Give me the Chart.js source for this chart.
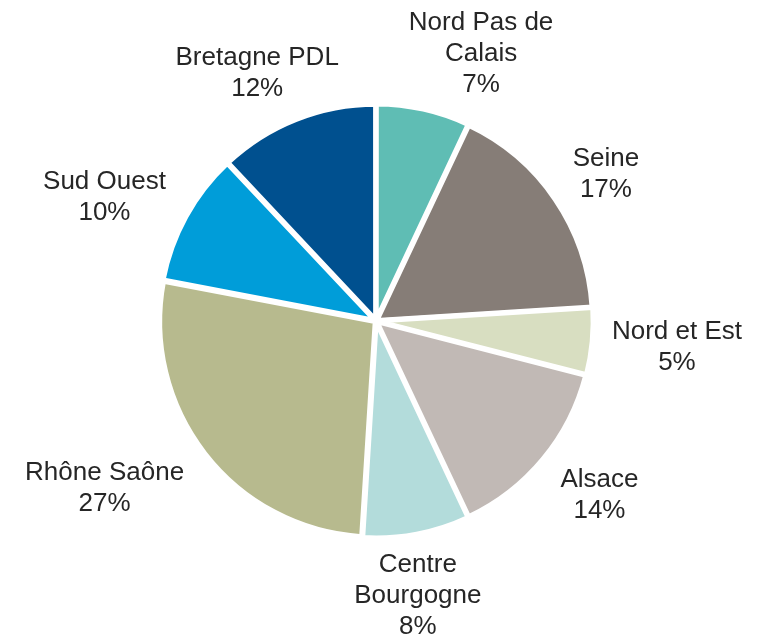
<!DOCTYPE html>
<html>
<head>
    <meta charset="utf-8">
    <title>Répartition par région</title>
    <script src="https://cdn.jsdelivr.net/npm/chart.js"></script>
    <style>
        html, body { margin: 0; padding: 0; background: #fff; }
        #wrap { width: 768px; height: 635px; }
    </style>
</head>
<body>
    <div id="wrap"><canvas id="pie"></canvas></div>

    <script>
        // Regions and their share (%)
        const regions = ['Nord Pas de Calais', 'Seine', 'Nord et Est', 'Alsace',
                         'Centre Bourgogne', 'Rhône Saône', 'Sud Ouest', 'Bretagne PDL'];
        const shares = [7, 17, 5, 14, 8, 27, 10, 12];
        // How each label is broken over lines
        const labelLines = [
            ['Nord Pas de', 'Calais'],
            ['Seine'],
            ['Nord et Est'],
            ['Alsace'],
            ['Centre', 'Bourgogne'],
            ['Rhône Saône'],
            ['Sud Ouest'],
            ['Bretagne PDL']
        ];
        const colors = ['#5fbdb4', '#867d77', '#d8dec1', '#c1b9b5',
                        '#b3dcdb', '#b7ba8e', '#009dd9', '#00508f'];

        // hand nudges so the labels sit where Excel put them
        const nudge = [[52, -1], [19, -9], [10, 5], [25, 17], [-3, 6], [-42, 16], [-25, -7], [-24, -9]];

        const outsideLabels = {
            id: 'outsideLabels',
            afterDraw(chart) {
                const ctx = chart.ctx;
                const arcs = chart.getDatasetMeta(0).data;
                const fontSize = 26, lineH = 31, gap = 12;
                ctx.save();
                ctx.font = fontSize + 'px "Liberation Sans", Arial, sans-serif';
                ctx.fillStyle = '#262626';
                ctx.textAlign = 'center';
                ctx.textBaseline = 'middle';
                arcs.forEach((arc, i) => {
                    const p = arc.getProps(['x', 'y', 'startAngle', 'endAngle', 'outerRadius']);
                    const mid = (p.startAngle + p.endAngle) / 2;
                    const lines = labelLines[i].concat([shares[i] + '%']);
                    const w = Math.max(...lines.map(l => ctx.measureText(l).width));
                    const h = lines.length * lineH;
                    const r = p.outerRadius + gap;
                    const cx = p.x + Math.cos(mid) * (r + w / 2 * Math.abs(Math.cos(mid))) + nudge[i][0];
                    const cy = p.y + Math.sin(mid) * (r + h / 2 * Math.abs(Math.sin(mid))) + nudge[i][1];
                    lines.forEach((l, j) => {
                        ctx.fillText(l, cx, cy - h / 2 + lineH * (j + 0.5));
                    });
                });
                ctx.restore();
            }
        };

        new Chart(document.getElementById('pie'), {
            type: 'pie',
            data: {
                labels: regions,
                datasets: [{
                    data: shares,
                    backgroundColor: colors,
                    borderColor: '#ffffff',
                    borderWidth: 5,
                    offset: 4
                }]
            },
            options: {
                responsive: true,
                maintainAspectRatio: false,
                animation: false,
                layout: { padding: { left: 156, top: 101, right: 172, bottom: 94 } },
                plugins: {
                    legend: { display: false },
                    tooltip: { enabled: false }
                }
            },
            plugins: [outsideLabels]
        });
    </script>
</body>
</html>
